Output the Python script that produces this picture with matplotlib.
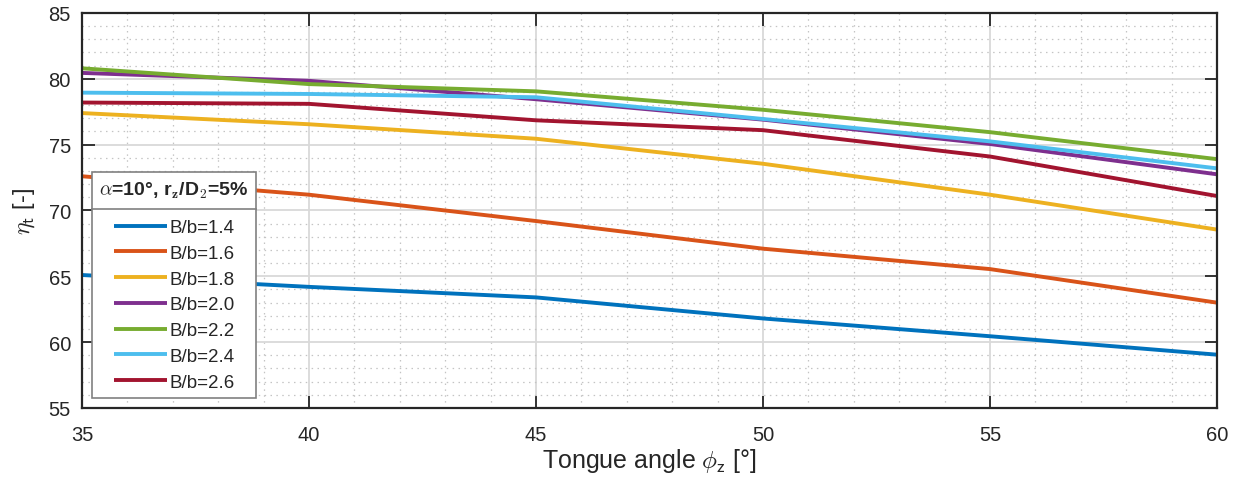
import matplotlib
matplotlib.use("Agg")
import matplotlib.pyplot as plt
from matplotlib.lines import Line2D
from matplotlib.legend_handler import HandlerLine2D
from matplotlib.ticker import MultipleLocator

plt.rcParams['font.family'] = ['Liberation Sans', 'DejaVu Sans']
plt.rcParams['mathtext.fontset'] = 'cm'

angles = [35, 40, 45, 50, 55, 60]
labels = ['B/b=1.4', 'B/b=1.6', 'B/b=1.8', 'B/b=2.0', 'B/b=2.2', 'B/b=2.4', 'B/b=2.6']
eta_14 = [65.1, 64.2, 63.4, 61.8, 60.45, 59.05]
eta_16 = [72.6, 71.2, 69.2, 67.1, 65.55, 63.0]
eta_18 = [77.4, 76.55, 75.45, 73.55, 71.2, 68.55]
eta_20 = [80.45, 79.85, 78.45, 76.9, 75.05, 72.75]
eta_22 = [80.8, 79.6, 79.05, 77.65, 75.95, 73.9]
eta_24 = [78.95, 78.85, 78.6, 76.95, 75.25, 73.2]
eta_26 = [78.2, 78.1, 76.85, 76.1, 74.1, 71.1]
series = [eta_14, eta_16, eta_18, eta_20, eta_22, eta_24, eta_26]
colors = ['#0072BD', '#D95319', '#EDB120', '#7E2F8E', '#77AC30', '#4DBEEE', '#A2142F']


class InsetHandler(HandlerLine2D):
    """Line handle that starts a little right of the handle box edge."""
    def __init__(self, inset, **kw):
        super().__init__(**kw)
        self.inset = inset

    def create_artists(self, legend, orig_handle, xdescent, ydescent, width,
                       height, fontsize, trans):
        arts = super().create_artists(legend, orig_handle, xdescent, ydescent,
                                      width, height, fontsize, trans)
        for a in arts:
            xd = list(a.get_xdata())
            if len(xd) == 2:
                a.set_xdata([xd[0] + self.inset, xd[1]])
        return arts


fig = plt.figure(figsize=(12.35, 4.81), dpi=100)
ax = fig.add_axes([0.0664, 0.1497, 0.9190, 0.8212])

handles = []
for vals, lab, c in zip(series, labels, colors):
    h, = ax.plot(angles, vals, color=c, lw=2.8, label=lab, solid_capstyle='butt')
    handles.append(h)

ax.set_xlim(35, 60)
ax.set_ylim(55, 85)
ax.xaxis.set_major_locator(MultipleLocator(5))
ax.yaxis.set_major_locator(MultipleLocator(5))
ax.xaxis.set_minor_locator(MultipleLocator(1))
ax.yaxis.set_minor_locator(MultipleLocator(1))
ax.grid(which='major', color='#d9d9d9', lw=1.3, ls='-')
ax.grid(which='minor', color='#c4c4c4', lw=0.9, ls=(0, (1.2, 3.5)))
ax.set_axisbelow(True)
ax.tick_params(which='major', direction='in', length=9, width=1.3, top=True, right=True,
               labelsize=14.5, colors='#262626')
ax.tick_params(axis='x', which='major', pad=12)
ax.tick_params(axis='y', which='major', pad=8)
ax.tick_params(which='minor', length=0, top=True, right=True)
for s in ax.spines.values():
    s.set_linewidth(1.6)
    s.set_color('#262626')

ax.set_xlabel(r'Tongue angle $\phi_{\mathsf{z}}$ [°]', fontsize=18, color='#262626', labelpad=2)
ax.set_ylabel(r'$\eta_{\mathsf{t}}$ [-]', fontsize=17, color='#262626', labelpad=8)

leg = ax.legend(handles=handles, loc='lower left', bbox_to_anchor=(0.0088, 0.025),
                borderaxespad=0,
                fontsize=13.5,
                title=r'$\alpha$=10°, r$_{\mathbf{z}}$/D$_{\mathbf{2}}$=5%',
                title_fontproperties={'weight': 'bold', 'size': 14},
                fancybox=False, framealpha=1, edgecolor='#808080',
                handlelength=2.83, handletextpad=0.14, labelspacing=0.46,
                borderpad=0.4,
                handler_map={Line2D: InsetHandler(inset=10)})
leg.get_frame().set_linewidth(1.2)
leg._legend_box.sep = 14
leg.get_title().set_color('#262626')
for t in leg.get_texts():
    t.set_color('#262626')

fig.canvas.draw()
lb = leg.get_window_extent()
tb = leg.get_title().get_window_extent()
first = leg.get_texts()[0].get_window_extent()
ysep = 0.5 * (tb.y0 + first.y1)
fig.add_artist(Line2D([lb.x0, lb.x1], [ysep, ysep], transform=None,
                      color='#808080', lw=1.2))

fig.savefig('out.png', dpi=100)
